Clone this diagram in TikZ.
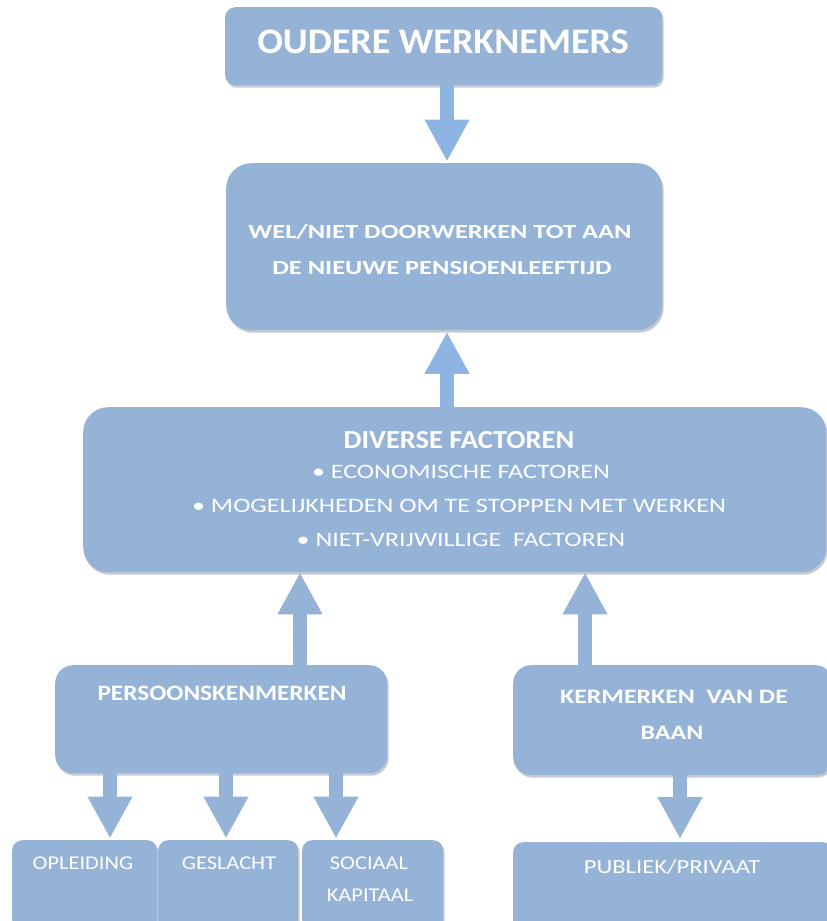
\documentclass[tikz,border=0pt]{standalone}
\usepackage{fontspec}
\usepackage{graphicx}
\setmainfont{Carlito}
\usetikzlibrary{arrows.meta,shadows}
\definecolor{boxblue}{HTML}{95B3D7}
\definecolor{arrblue}{HTML}{8DB4E2}
\definecolor{shadowgray}{HTML}{7F8A99}
\newcommand{\widetxt}[2]{\scalebox{#1}[1]{#2}}
\begin{document}
\begin{tikzpicture}[x=1pt,y=-1pt,
  box/.style={fill=boxblue, draw=none, rounded corners=#1, anchor=north west, inner sep=0pt,
    drop shadow={shadow xshift=1.5pt, shadow yshift=-2.5pt, fill=shadowgray, opacity=0.45}},
  box/.default=10pt,
  txt/.style={text=white, inner sep=0pt, anchor=center, align=center},
  barrow/.style={draw=#1, line width=14pt, -{Triangle[width=42pt,length=42pt]}},
  barrow/.default=boxblue
]
\useasboundingbox (0,0) rectangle (827,921);
% boxes
\node (top) [box=10pt, minimum width=437pt, minimum height=78pt] at (225,7) {};
\node (wel) [box=25pt, minimum width=436pt, minimum height=167pt] at (226,163) {};
\node (div) [box=25pt, minimum width=743pt, minimum height=165pt] at (83,407) {};
\node (pers) [box=18pt, minimum width=332pt, minimum height=108pt] at (55,665) {};
\node (baan) [box=18pt, minimum width=320pt, minimum height=110pt] at (513,665) {};
\node (opl) [box=10pt, minimum width=145pt, minimum height=90pt] at (12,840) {};
\node (ges) [box=10pt, minimum width=140pt, minimum height=90pt] at (158,840) {};
\node (soc) [box=10pt, minimum width=141pt, minimum height=90pt] at (302,840) {};
\node (pub) [box=10pt, minimum width=320pt, minimum height=90pt] at (513,842) {};
% texts
\node (ttop) [txt, font=\fontsize{36}{40}\selectfont\bfseries] at (443,42) {\widetxt{1.057}{OUDERE WERKNEMERS}};
\node (twel1) [txt, font=\fontsize{20}{24}\selectfont\bfseries] at (440,232) {\widetxt{1.32}{WEL/NIET DOORWERKEN TOT AAN}};
\node (twel2) [txt, font=\fontsize{20}{24}\selectfont\bfseries] at (442,268) {\widetxt{1.32}{DE NIEUWE PENSIOENLEEFTIJD}};
\node (tdiv) [txt, font=\fontsize{26}{30}\selectfont\bfseries] at (459,440) {\widetxt{1.095}{DIVERSE FACTOREN}};
\node (tb1) [txt, font=\fontsize{20.5}{24}\selectfont] at (461,472) {\widetxt{1.27}{\textbullet\ ECONOMISCHE FACTOREN}};
\node (tb2) [txt, font=\fontsize{20.5}{24}\selectfont] at (459,506) {\widetxt{1.27}{\textbullet\ MOGELIJKHEDEN OM TE STOPPEN MET WERKEN}};
\node (tb3) [txt, font=\fontsize{20.5}{24}\selectfont] at (461,540) {\widetxt{1.27}{\textbullet\ NIET-VRIJWILLIGE\ \ FACTOREN}};
\node (tpers) [txt, font=\fontsize{22}{26}\selectfont\bfseries] at (222,693) {\widetxt{1.15}{PERSOONSKENMERKEN}};
\node (tbaan1) [txt, font=\fontsize{20.5}{24}\selectfont\bfseries] at (674,697) {\widetxt{1.26}{KERMERKEN\ \ VAN DE}};
\node (tbaan2) [txt, font=\fontsize{20.5}{24}\selectfont\bfseries] at (672,733) {\widetxt{1.26}{BAAN}};
\node (topl) [txt, font=\fontsize{19.5}{22}\selectfont] at (83,863) {\widetxt{1.15}{OPLEIDING}};
\node (tges) [txt, font=\fontsize{19.5}{22}\selectfont] at (229,863) {\widetxt{1.15}{GESLACHT}};
\node (tsoc1) [txt, font=\fontsize{19.5}{22}\selectfont] at (369,863) {\widetxt{1.15}{SOCIAAL}};
\node (tsoc2) [txt, font=\fontsize{19.5}{22}\selectfont] at (370,895) {\widetxt{1.15}{KAPITAAL}};
\node (tpub) [txt, font=\fontsize{20}{22}\selectfont] at (672,867) {\widetxt{1.23}{PUBLIEK/PRIVAAT}};
% arrow columns
\coordinate (xa) at (447,0);
\coordinate (xl) at (300,0);
\coordinate (xr) at (585,0);
\coordinate (x1) at (110,0);
\coordinate (x2) at (226,0);
\coordinate (x3) at (336,0);
\coordinate (x4) at (680,0);
% arrows
\draw[barrow=arrblue] (xa |- top.south) -- ([yshift=1.5pt]xa |- wel.north);
\draw[barrow=arrblue] (xa |- div.north) -- ([yshift=-1.5pt]xa |- wel.south);
\draw[barrow] (xl |- pers.north) -- (xl |- div.south);
\draw[barrow] (xr |- baan.north) -- (xr |- div.south);
\draw[barrow] (x1 |- pers.south) -- ([yshift=1.5pt]x1 |- opl.north);
\draw[barrow] (x2 |- pers.south) -- ([yshift=1.5pt]x2 |- ges.north);
\draw[barrow] (x3 |- pers.south) -- ([yshift=1.5pt]x3 |- soc.north);
\draw[barrow] (x4 |- baan.south) -- ([yshift=3pt]x4 |- pub.north);
\end{tikzpicture}
\end{document}
